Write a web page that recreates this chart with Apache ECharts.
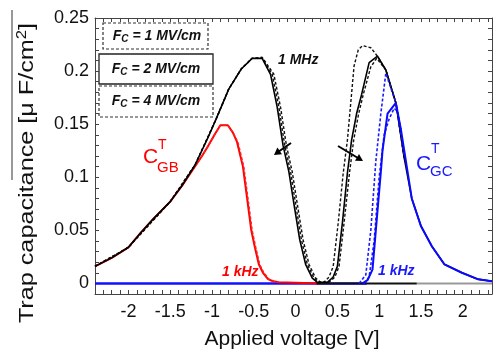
<!DOCTYPE html>
<html>
<head>
<meta charset="utf-8">
<script src="https://cdn.jsdelivr.net/npm/echarts@6/dist/echarts.min.js"></script>
<style>
  html, body { margin: 0; padding: 0; background: #fff; }
  #chart { width: 495px; height: 349px; }
</style>
</head>
<body>
<div id="chart"></div>
<script>
// tick labels
const xTicks = [-2, -1.5, -1, -0.5, 0, 0.5, 1, 1.5, 2];
const yTicks = [0, 0.05, 0.1, 0.15, 0.2, 0.25];

// 1 MHz, F_C = 2 MV/cm (solid black)
const mhzV2 = [-2.4, -2.3, -2.2, -2.1, -2.0, -1.85, -1.7, -1.5, -1.35, -1.2, -1.05, -0.95, -0.8, -0.65, -0.52, -0.4, -0.3,
  -0.22, -0.15, -0.08, -0.02, 0.05, 0.12, 0.2, 0.26, 0.38, 0.45, 0.5, 0.56, 0.62, 0.67, 0.73,
  0.79, 0.88, 0.98, 1.08, 1.2, 1.3, 1.39, 1.5, 1.63, 1.78, 1.99, 2.18, 2.35];
const mhzC2 = [0.016, 0.02, 0.024, 0.029, 0.034, 0.048, 0.061, 0.077, 0.093, 0.112, 0.137, 0.155, 0.183, 0.202, 0.212, 0.212, 0.197,
  0.166, 0.13, 0.105, 0.075, 0.041, 0.018, 0.005, 0.001, 0.001, 0.006, 0.016, 0.057, 0.104, 0.135, 0.16,
  0.178, 0.208, 0.214, 0.201, 0.17, 0.118, 0.08, 0.054, 0.035, 0.018, 0.01, 0.004, 0.002];

// 1 MHz, F_C = 1 MV/cm (dashed black)
const mhzV1 = [-2.4, -2.0, -1.5, -1.2, -0.95, -0.8, -0.65, -0.52, -0.4, -0.26, -0.18, -0.11, -0.04, 0.02, 0.09,
  0.16, 0.24, 0.3, 0.34, 0.4, 0.45, 0.51, 0.57, 0.62, 0.66, 0.7, 0.75, 0.8, 0.9, 0.98, 1.08, 1.2, 1.3];
const mhzC1 = [0.016, 0.034, 0.077, 0.112, 0.155, 0.183, 0.202, 0.212, 0.213, 0.197, 0.166, 0.13, 0.105, 0.075, 0.041,
  0.018, 0.005, 0.001, 0.001, 0.006, 0.016, 0.057, 0.104, 0.135, 0.17, 0.205, 0.22, 0.224, 0.222, 0.214, 0.201, 0.17, 0.118];

// 1 MHz, F_C = 4 MV/cm (dashed black)
const mhzV4 = [-2.4, -2.0, -1.5, -1.2, -0.95, -0.8, -0.65, -0.52, -0.4, -0.28, -0.2, -0.13, -0.06, 0.0, 0.07,
  0.14, 0.22, 0.28, 0.4, 0.47, 0.52, 0.58, 0.645, 0.695, 0.755, 0.81, 0.9, 0.97, 1.08, 1.2, 1.3];
const mhzC4 = [0.016, 0.034, 0.077, 0.112, 0.155, 0.183, 0.202, 0.212, 0.212, 0.197, 0.166, 0.13, 0.105, 0.075, 0.041,
  0.018, 0.005, 0.001, 0.001, 0.006, 0.016, 0.057, 0.104, 0.135, 0.16, 0.178, 0.204, 0.212, 0.201, 0.17, 0.118];

// 1 kHz gate-to-body (red)
const gbV2 = [-2.4, -2.3, -2.2, -2.1, -2.0, -1.85, -1.7, -1.5, -1.35, -1.23, -1.12, -1.05, -0.97, -0.9, -0.81, -0.75, -0.7, -0.63, -0.58, -0.53,
  -0.49, -0.44, -0.39, -0.33, -0.27, -0.2, 0.3];
const gbC2 = [0.016, 0.02, 0.024, 0.029, 0.034, 0.048, 0.061, 0.077, 0.093, 0.107, 0.12, 0.129, 0.14, 0.149, 0.149, 0.142, 0.133, 0.11, 0.08, 0.05,
  0.035, 0.018, 0.01, 0.004, 0.002, 0.001, 0];
const gbV1 = [-1.23, -1.12, -1.05, -0.97, -0.9, -0.81, -0.75, -0.69, -0.62, -0.57, -0.52, -0.48, -0.43, -0.38, -0.32, -0.26, -0.2];
const gbC1 = [0.107, 0.12, 0.129, 0.14, 0.149, 0.149, 0.142, 0.133, 0.11, 0.08, 0.05, 0.035, 0.018, 0.01, 0.004, 0.002, 0.001];

// 1 kHz gate-to-channel (blue)
const gcV2 = [0.8, 0.86, 0.92, 0.96, 1.02, 1.04, 1.1, 1.2, 1.26, 1.39, 1.5, 1.63, 1.78, 1.99, 2.18, 2.35];
const gcC2 = [0, 0.003, 0.013, 0.05, 0.105, 0.125, 0.16, 0.17, 0.145, 0.08, 0.054, 0.035, 0.018, 0.01, 0.004, 0.002];
const gcV1 = [0.76, 0.84, 0.9, 0.96, 1.02, 1.08, 1.2, 1.26];
const gcC1 = [0, 0.008, 0.05, 0.115, 0.16, 0.198, 0.17, 0.145];
const gcV4 = [0.82, 0.88, 0.94, 1.0, 1.06, 1.12, 1.18, 1.22, 1.3];
const gcC4 = [0, 0.006, 0.04, 0.1, 0.14, 0.155, 0.165, 0.162, 0.12];

// flat zero parts
const blueBaseV = [-2.4, 0.85];
const blackBaseV = [0.25, 1.45];
const grayBaseV = [1.45, 2.35];
const zeroC = [0, 0];

const FONT = '"Liberation Sans", Arial, sans-serif';

function pairs(vs, cs) {
  return vs.map((v, i) => [v, cs[i]]);
}

function curve(vs, cs, color, width, dashed) {
  return {
    type: 'line',
    data: pairs(vs, cs),
    symbol: 'none',
    silent: true,
    lineStyle: { color: color, width: width, type: dashed ? [3, 2] : 'solid' },
  };
}

function boxText(x, y, txt) {
  return {
    type: 'text', x: x, y: y,
    style: {
      text: '{f|F}{s|C}{f| = ' + txt + '}',
      align: 'center', verticalAlign: 'middle',
      rich: {
        f: { font: 'italic bold 14px ' + FONT, fill: '#111', lineHeight: 16 },
        s: { font: 'italic bold 10px ' + FONT, fill: '#111', lineHeight: 8, verticalAlign: 'bottom' },
      },
    },
  };
}

function arrow(x1, y1, x2, y2, head) {
  return [
    { type: 'line', shape: { x1: x1, y1: y1, x2: x2, y2: y2 }, style: { stroke: '#000', lineWidth: 2 } },
    { type: 'polygon', shape: { points: head }, style: { fill: '#000' } },
  ];
}

const chart = echarts.init(document.getElementById('chart'));

const axisLine = { onZero: false, lineStyle: { color: '#444', width: 1 } };
const tick = { inside: true, length: 4, lineStyle: { color: '#444' } };

const option = {
  animation: false,
  grid: { left: 95, right: 3, top: 18, bottom: 55 },
  xAxis: [{
    type: 'value', min: -2.4, max: 2.35, interval: 0.1,
    axisLine: axisLine, axisTick: tick, splitLine: { show: false },
    axisLabel: {
      customValues: xTicks, margin: 9,
      color: '#111', fontSize: 18, fontFamily: FONT,
      formatter: (v) => String(v),
    },
  }, {
    type: 'value', position: 'top', min: -2.4, max: 2.35, interval: 0.1,
    axisLine: axisLine, axisTick: tick, splitLine: { show: false }, axisLabel: { show: false },
  }],
  yAxis: [{
    type: 'value', min: -0.01, max: 0.25, interval: 0.01,
    axisLine: axisLine, axisTick: tick, splitLine: { show: false },
    axisLabel: {
      customValues: yTicks, margin: 6,
      color: '#111', fontSize: 18, fontFamily: FONT,
      formatter: (v) => String(parseFloat(v.toFixed(2))),
    },
  }, {
    type: 'value', position: 'right', min: -0.01, max: 0.25, interval: 0.01,
    axisLine: axisLine, axisTick: tick, splitLine: { show: false }, axisLabel: { show: false },
  }],
  series: [
    curve(blueBaseV, zeroC, '#1010ff', 2.5, false),
    curve(grayBaseV, zeroC, '#999', 2, false),
    curve(gbV2, gbC2, '#ff0000', 2, false),
    curve(gbV1, gbC1, '#ff2020', 1.5, true),
    curve(blackBaseV, zeroC, '#111', 2, false),
    curve(mhzV1, mhzC1, '#111', 1.4, true),
    curve(mhzV4, mhzC4, '#111', 1.4, true),
    curve(mhzV2, mhzC2, '#000', 1.6, false),
    curve(gcV1, gcC1, '#1a1aff', 1.6, true),
    curve(gcV4, gcC4, '#1a1aff', 1.6, true),
    curve(gcV2, gcC2, '#0a0aff', 2, false),
  ],
  graphic: [
    // legend boxes
    { type: 'rect', shape: { x: 103, y: 23, width: 105, height: 26 }, style: { fill: 'none', stroke: '#333', lineWidth: 1.2, lineDash: [3, 2] } },
    { type: 'rect', shape: { x: 99, y: 54, width: 114, height: 30 }, style: { fill: 'none', stroke: '#222', lineWidth: 1.3 } },
    { type: 'rect', shape: { x: 99, y: 86, width: 114, height: 31 }, style: { fill: 'none', stroke: '#333', lineWidth: 1.2, lineDash: [3, 2] } },
    boxText(157, 36, '1 MV/cm'),
    boxText(156, 69, '2 MV/cm'),
    boxText(156, 101, '4 MV/cm'),
    // curve labels
    { type: 'text', x: 278, y: 60, style: { text: '1 MHz', font: 'italic bold 14px ' + FONT, fill: '#111', verticalAlign: 'middle' } },
    { type: 'text', x: 222, y: 272, style: { text: '1 kHz', font: 'italic bold 14px ' + FONT, fill: '#ff0000', verticalAlign: 'middle' } },
    { type: 'text', x: 378, y: 271, style: { text: '1 kHz', font: 'italic bold 14px ' + FONT, fill: '#1a1aff', verticalAlign: 'middle' } },
    { type: 'text', x: 143, y: 157, style: { text: 'C', font: '21px ' + FONT, fill: '#ff0000', verticalAlign: 'middle' } },
    { type: 'text', x: 158, y: 145, style: { text: 'T', font: '14px ' + FONT, fill: '#ff0000', verticalAlign: 'middle' } },
    { type: 'text', x: 157, y: 168, style: { text: 'GB', font: '15px ' + FONT, fill: '#ff0000', verticalAlign: 'middle' } },
    { type: 'text', x: 416, y: 164, style: { text: 'C', font: '21px ' + FONT, fill: '#1a1aff', verticalAlign: 'middle' } },
    { type: 'text', x: 431, y: 149, style: { text: 'T', font: '14px ' + FONT, fill: '#1a1aff', verticalAlign: 'middle' } },
    { type: 'text', x: 430, y: 172, style: { text: 'GC', font: '15px ' + FONT, fill: '#1a1aff', verticalAlign: 'middle' } },
    // arrows
    ...arrow(291, 143, 278, 152, [[274, 155], [282, 154.2], [277.4, 147.6]]),
    ...arrow(338, 146, 358, 158, [[363, 161], [355, 160.8], [359, 154]]),
    // axis titles
    { type: 'text', x: 292, y: 339, style: { text: 'Applied voltage [V]', font: '21px ' + FONT, fill: '#111', align: 'center', verticalAlign: 'middle' } },
    {
      type: 'text', x: 27, y: 173, rotation: Math.PI / 2, scaleX: 1.2,
      style: {
        text: '{a|Trap capacitance [μ F/cm}{b|2}{a|]}',
        align: 'center', verticalAlign: 'middle',
        rich: {
          a: { font: '21px ' + FONT, fill: '#111', lineHeight: 24 },
          b: { font: '14px ' + FONT, fill: '#111', lineHeight: 14, verticalAlign: 'top' },
        },
      },
    },
    { type: 'line', shape: { x1: 12, y1: 10, x2: 12, y2: 180 }, style: { stroke: '#333', lineWidth: 1 } },
  ],
};

chart.setOption(option);
</script>
</body>
</html>
